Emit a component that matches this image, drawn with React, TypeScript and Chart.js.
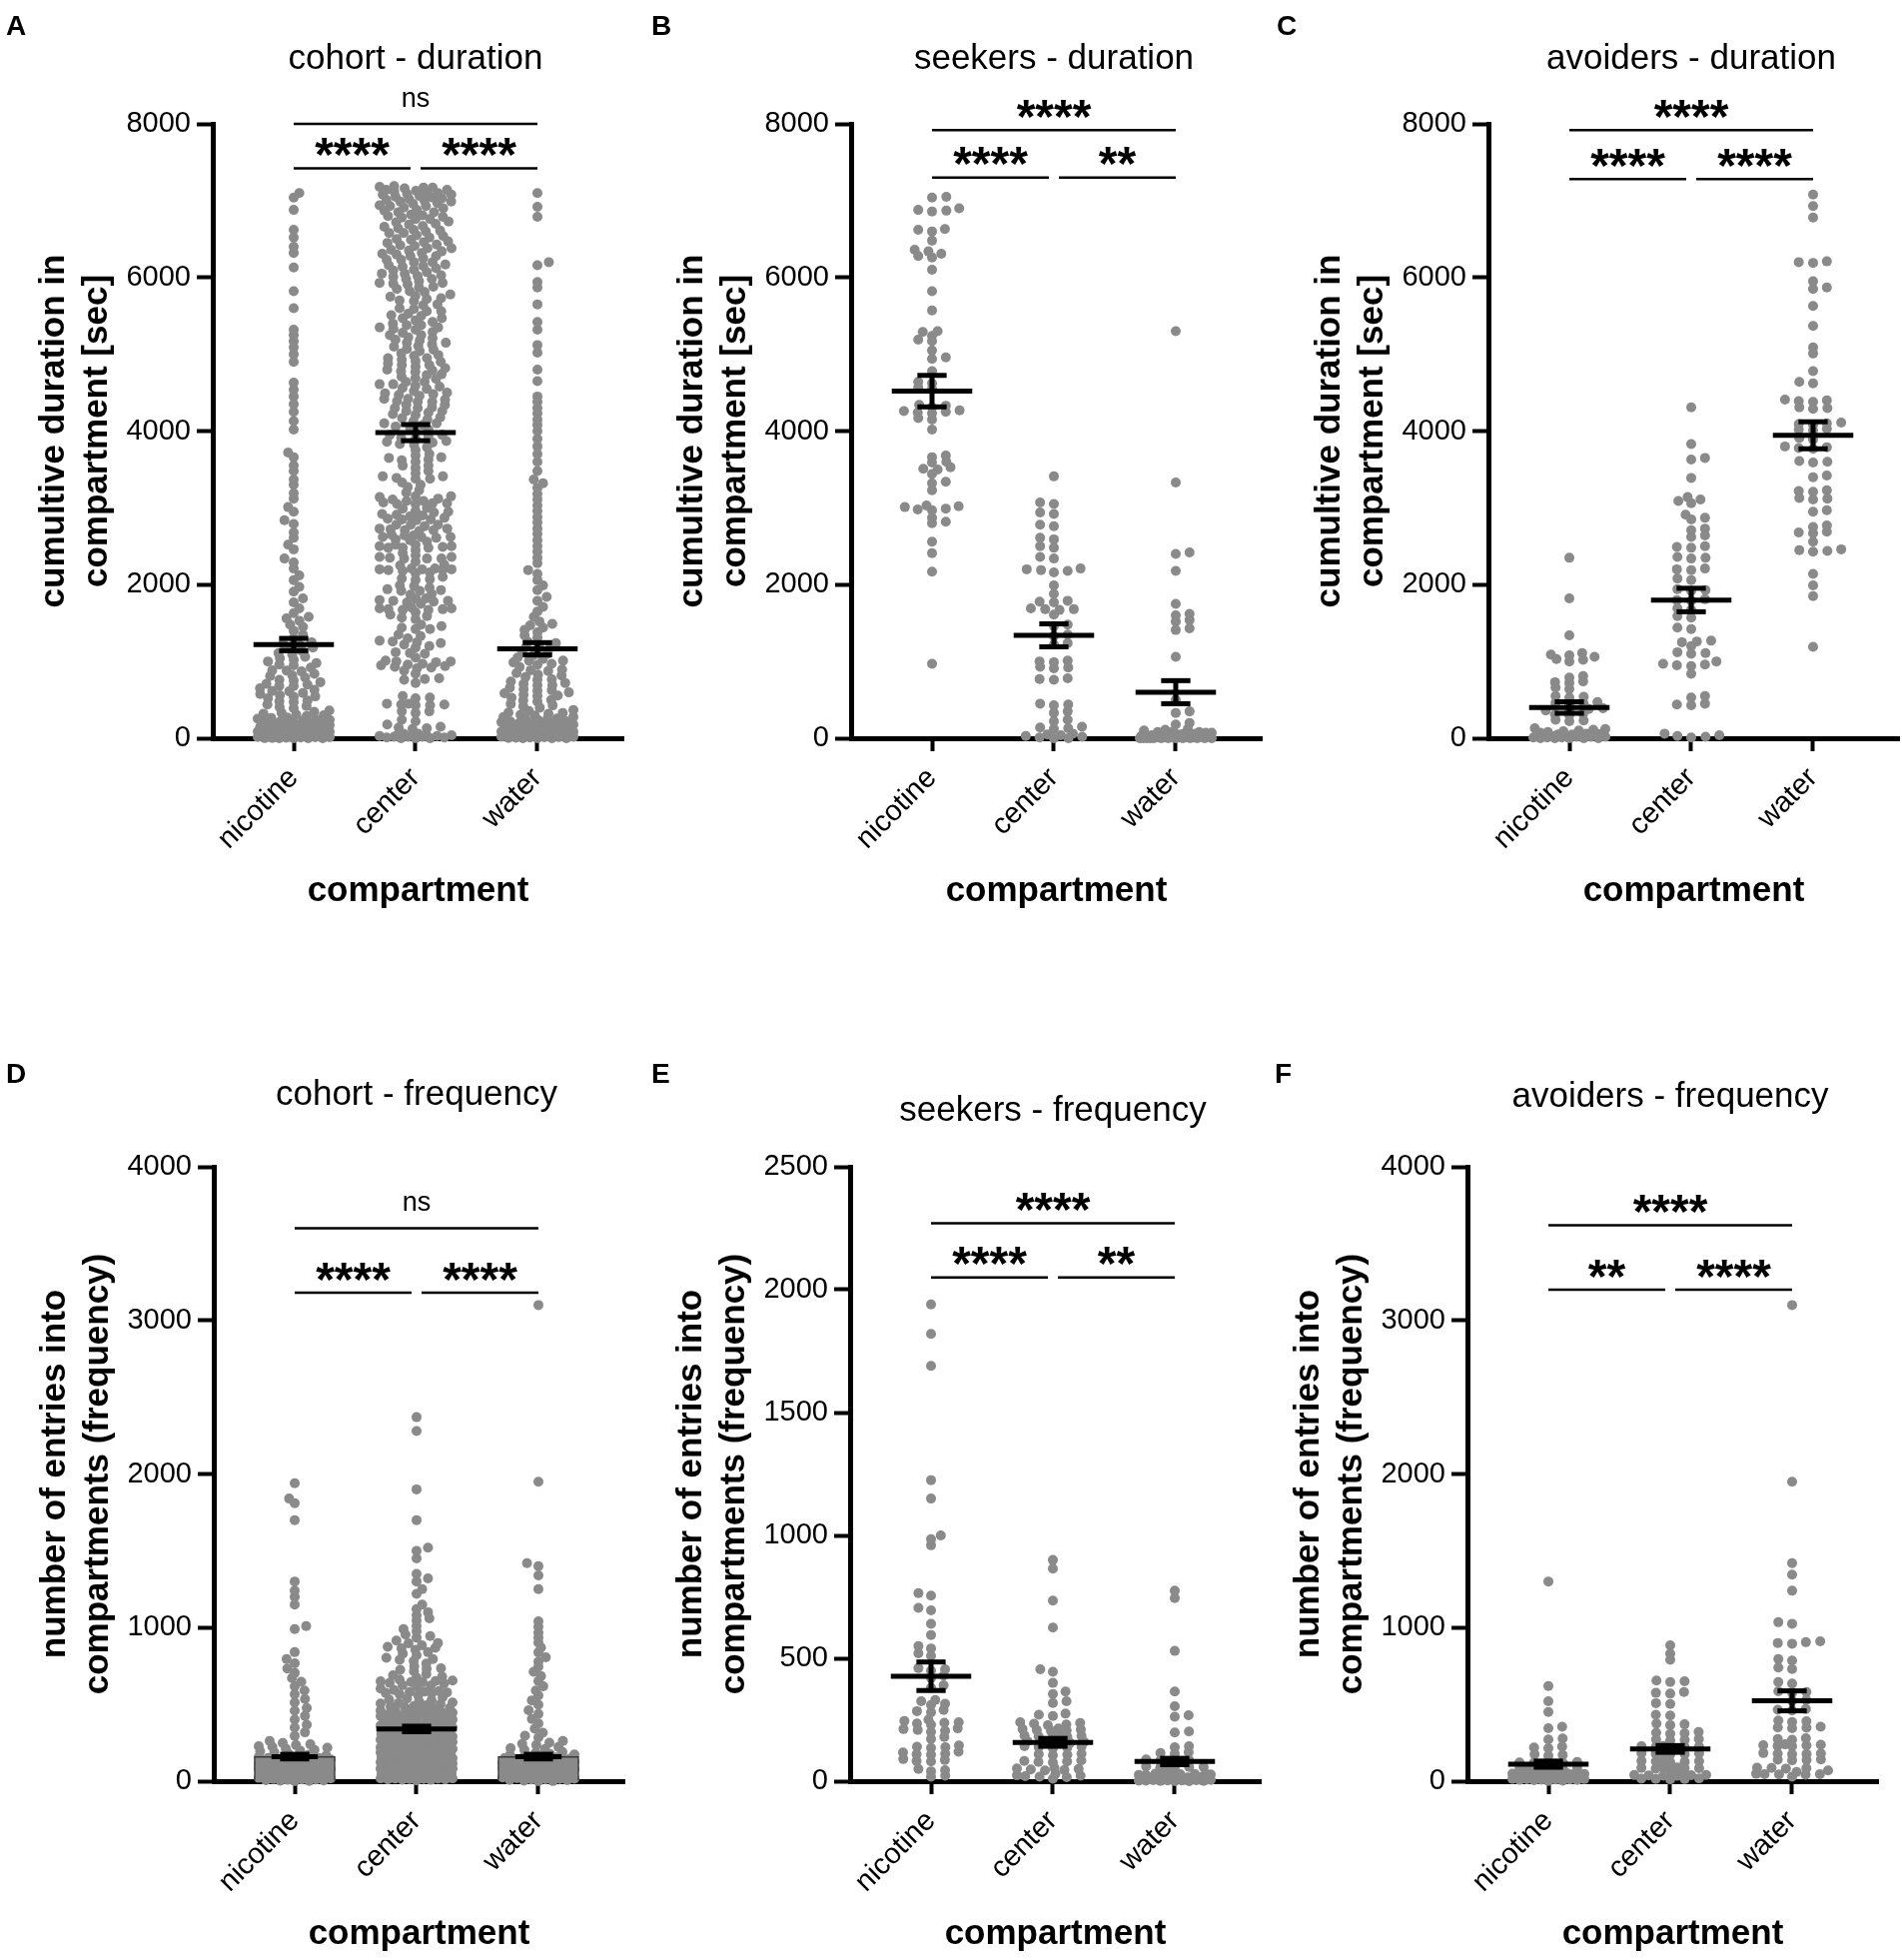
import React, { useEffect, useRef } from 'react';
import { Chart, registerables } from 'chart.js';

Chart.register(...registerables);

const FONT = "'Liberation Sans', Arial, Helvetica, sans-serif";
Chart.defaults.font.family = FONT;
Chart.defaults.color = '#000';

const compartments = ['nicotine', 'center', 'water'];

// ---- duration [sec] ----
const seekDurNic = [7050, 7040, 6900, 6880, 6870, 6860, 6630, 6620, 6600, 6480, 6360, 6340, 6310, 6280, 6260, 6100, 5820, 5570, 5300, 5290, 5240, 5190, 5170, 5050, 4960, 4940, 4780, 4640, 4620, 4570, 4550, 4340, 4330, 4310, 4270, 4260, 4250, 4240, 4230, 4170, 4150, 4020, 3680, 3660, 3600, 3590, 3530, 3510, 3500, 3440, 3340, 3320, 3230, 3030, 3020, 3010, 2990, 2980, 2970, 2870, 2820, 2800, 2560, 2410, 2170, 970];
const seekDurCen = [3410, 3070, 3050, 2940, 2920, 2780, 2760, 2610, 2590, 2500, 2480, 2360, 2340, 2210, 2200, 2190, 2180, 2160, 1990, 1880, 1790, 1780, 1770, 1690, 1680, 1680, 1670, 1610, 1480, 1460, 1350, 1330, 1240, 1220, 1010, 1000, 990, 930, 920, 910, 780, 770, 760, 450, 440, 430, 350, 330, 240, 220, 150, 140, 130, 120, 60, 50, 40, 30, 20, 10, 0, 0];
const seekDurWat = [5300, 3330, 2420, 2400, 2180, 1750, 1620, 1600, 1540, 1520, 1430, 1410, 1060, 500, 350, 330, 200, 180, 120, 110, 100, 90, 80, 80, 70, 70, 60, 60, 60, 50, 50, 50, 40, 40, 40, 40, 30, 30, 30, 30, 20, 20, 20, 20, 20, 10, 10, 10, 10, 10, 10, 0, 0, 0, 0, 0, 0, 0, 0, 0, 0, 0, 0, 0];

const avoidDurNic = [2350, 1820, 1340, 1110, 1090, 1080, 1060, 1030, 1020, 1000, 810, 790, 740, 730, 720, 660, 640, 550, 540, 530, 470, 460, 450, 440, 390, 380, 370, 360, 320, 310, 300, 240, 230, 220, 130, 120, 110, 100, 90, 80, 70, 60, 60, 50, 50, 40, 40, 40, 30, 30, 30, 20, 20, 20, 10, 10, 10, 0, 0, 0, 0, 0];
const avoidDurCen = [4310, 3830, 3650, 3630, 3390, 3140, 3110, 3090, 3060, 2910, 2870, 2850, 2730, 2710, 2640, 2620, 2500, 2490, 2480, 2360, 2350, 2340, 2210, 2200, 2190, 2080, 2060, 1940, 1930, 1920, 1810, 1800, 1790, 1690, 1670, 1590, 1570, 1440, 1420, 1270, 1260, 1250, 1200, 1120, 1110, 1100, 1000, 970, 960, 950, 940, 840, 550, 530, 450, 440, 430, 60, 40, 30, 20, 10];
const avoidDurWat = [7080, 6930, 6780, 6210, 6200, 6190, 5950, 5870, 5850, 5630, 5370, 5090, 5010, 4780, 4640, 4620, 4410, 4400, 4390, 4380, 4310, 4300, 4290, 4110, 4100, 4090, 4080, 4030, 4020, 4010, 3910, 3890, 3800, 3790, 3780, 3770, 3610, 3600, 3590, 3420, 3400, 3230, 3220, 3210, 3130, 3120, 3110, 2970, 2950, 2770, 2750, 2690, 2680, 2670, 2560, 2460, 2450, 2440, 2430, 2140, 1990, 1850, 1190];

const cohortDurNic = [0, 64, 12, 101, 33, 0, 87, 21, 55, 118, 4, 72, 40, 95, 16, 0, 60, 27, 110, 48, 8, 80, 36, 125, 52, 2, 68, 30, 90, 14, 44, 106, 0, 76, 24, 58, 114, 10, 84, 38,
  135, 212, 168, 246, 150, 190, 228, 142, 205, 175, 255, 160, 238, 198, 182,
  270, 540, 810, 360, 650, 920, 300, 590, 870, 420, 700, 980, 330, 610, 760, 470, 880, 290, 520, 950, 390, 730, 440, 840, 560, 680, 310, 490, 790, 630,
  215, 345, 480, 615, 750, 885, 1040, 1170, 265, 405, 545, 680, 820, 960, 1090, 1230, 320, 575, 710, 1000,
  1020, 1350, 1110, 1480, 1180, 1580, 1060, 1400, 1250, 1530, 1140, 1300, 1450, 1210, 1560,
  1630, 1690, 1770, 1820, 1910, 1970, 2060, 2120, 2210, 2290, 2340, 2460, 2520, 2610, 2680, 2790, 2840, 2950, 3010, 3120, 3190, 3300, 3370, 3480, 3550, 3660,
  3720, 4020, 4130, 4250, 4350, 4450, 4540, 4630, 4900, 5000, 5090, 5170, 5250, 5320, 5600, 5820, 6130, 6320, 6400, 6520, 6620, 6880, 7040, 7100];
const otherDurCen = [7190, 6850, 7020, 7140, 6910, 7080, 6960, 7170, 6820, 7050, 6990, 7110, 6880, 7160, 6940, 7030, 6810, 7090, 6970, 7130, 6870, 7000, 7180, 6930, 7060,
  5820, 6450, 6100, 6700, 5950, 6300, 6620, 5880, 6230, 6550, 6010, 6380, 6760, 5910, 6170, 6500, 6790, 6050, 6340, 6660, 5850, 6200, 6580, 6120, 6420, 6730, 5980, 6280, 6600, 6070, 6360, 6690, 5930, 6250, 6520, 6150, 6470, 6780, 6030, 6320,
  4420, 5130, 4780, 5560, 4610, 5290, 4950, 5720, 4500, 5180, 4860, 5440, 4690, 5350, 5010, 5650, 4550, 5220, 4900, 5500, 4740, 5400, 5070, 5780, 4460, 5150, 4820, 5600, 4640, 5320, 4980, 5690, 4580, 5250, 4930, 5470, 4710, 5380, 5040, 5750, 4480, 5110, 4800, 5530, 5100,
  3820, 4150, 3950, 4300, 3870, 4220, 4050, 4380, 3910, 4100, 4260, 3990, 4340, 3850, 4180, 4020, 4390, 3930, 4240, 4080,
  2520, 3150, 2780, 3600, 2650, 3300, 2900, 3750, 2580, 3050, 2720, 3450, 2850, 3550, 2620, 3200, 2960, 3680, 2700, 3380,
  1550, 1820, 2100, 2380, 1700, 1960, 2250, 2450, 720, 880, 1050, 1180, 1300, 1420, 0, 20, 40, 180, 350, 520];
const extraDurCen = [6140, 4520, 5870, 6930, 4210, 5330, 6610, 4790, 7120, 5060, 6280, 4380, 5640, 6850, 4950, 6020, 7040, 4470, 5510, 6460,
  4130, 5190, 6720, 4860, 5980, 7170, 4300, 5420, 6380, 4680, 5760, 6990, 4060, 5250, 6540, 4910, 6090, 7080, 4590, 5700,
  6230, 4420, 5380, 6800, 4730, 5920, 6670, 4170, 5150, 6350, 4840, 6160, 7140, 4560, 5590, 6490, 4260, 5470, 6760, 4990,
  6050, 6900, 4640, 5810, 6410, 4340, 5280, 6580, 4770, 5930, 7010, 4490, 5560, 6310, 4100, 5210, 6640, 4880, 6200, 7100,
  4610, 5730, 6430, 4410, 5350,
  2620, 3480, 1980, 3150, 2840, 3790, 2260, 3330, 1750, 2950, 3620, 2480, 3060, 1870, 2710, 3900, 2150, 3410, 2560, 3230,
  1640, 2890, 3700, 2340, 3000, 2780, 3550, 2070, 3270, 2640, 3860, 2410, 3120, 1920, 2990, 3660, 2200, 3380, 2730, 3520,
  2520, 3090, 2860, 3950, 2300];
const cohortDurCen = [...seekDurCen, ...avoidDurCen, ...otherDurCen, ...extraDurCen];
const cohortDurWat = [6, 70, 18, 108, 40, 0, 92, 26, 61, 122, 3, 78, 45, 99, 13, 0, 66, 31, 115, 53, 9, 85, 42, 128, 57, 0, 73, 35, 96, 19, 49, 103, 0, 81, 28, 63, 119, 15, 88, 37,
  140, 218, 172, 251, 155, 195, 233, 147, 210, 180, 258, 164, 242, 202, 187,
  278, 548, 816, 367, 657, 928, 305, 597, 876, 428, 707, 987, 336, 618, 768, 477, 886, 296, 528, 957, 398, 738, 447, 848, 567, 688, 318, 497, 797, 638,
  225, 355, 490, 625, 760, 895, 1050, 1180, 275, 415, 555, 690, 830, 970, 1100, 1240, 330, 585, 720, 1010,
  1030, 1340, 1120, 1470, 1190, 1010, 1410, 1260, 1490, 1150, 1310, 1440, 1220, 1080, 1380,
  1520, 1580, 1650, 1710, 1790, 1840, 1930, 1990, 2060, 2140, 2190, 2280, 2350, 2430, 2500, 2580, 2660, 2730, 2810, 2880, 2960, 3030, 3110, 3180, 3260, 3320,
  3370, 3480, 3600, 3700, 3800, 3900, 4000, 4080, 4150, 4230, 4300, 4380, 4450, 4650, 4800, 5020, 5120, 5320, 5420, 5650, 5870, 5940, 6160, 6200, 6790, 6920, 7100];

// ---- frequency [entries] ----
const seekFreqNic = [1940, 1820, 1690, 1225, 1150, 1000, 985, 960, 765, 755, 705, 695, 640, 595, 550, 540, 520, 510, 460, 455, 450, 430, 420, 390, 380, 330, 325, 315, 310, 290, 285, 280, 250, 245, 240, 238, 235, 230, 215, 212, 208, 205, 200, 180, 172, 145, 140, 138, 135, 120, 117, 112, 110, 108, 90, 86, 82, 80, 50, 45, 40, 22, 18];
const seekFreqCen = [900, 865, 735, 625, 455, 445, 400, 365, 355, 325, 318, 275, 270, 265, 240, 237, 234, 231, 228, 214, 212, 210, 208, 206, 204, 188, 186, 184, 182, 180, 178, 163, 160, 158, 156, 154, 142, 140, 138, 136, 134, 112, 110, 108, 106, 84, 82, 80, 78, 76, 54, 52, 50, 48, 46, 44, 24, 22, 20, 18, 16, 10, 30];
const seekFreqWat = [775, 745, 530, 365, 305, 268, 262, 202, 198, 142, 138, 118, 115, 112, 88, 86, 84, 82, 62, 60, 58, 58, 56, 55, 32, 31, 30, 30, 29, 28, 28, 27, 26, 25, 18, 16, 15, 14, 14, 13, 12, 12, 11, 10, 10, 9, 8, 8, 7, 6, 6, 5, 5, 4, 4, 3, 3, 2, 2, 1, 1, 0, 0];

const avoidFreqNic = [1300, 620, 520, 450, 355, 345, 278, 272, 225, 220, 215, 175, 170, 165, 125, 122, 120, 118, 115, 90, 88, 86, 85, 84, 82, 80, 78, 50, 48, 47, 46, 45, 44, 43, 42, 41, 40, 40, 38, 25, 24, 23, 22, 21, 20, 20, 19, 18, 17, 16, 15, 15, 14, 13, 12, 11, 10, 9, 8, 6, 4, 2];
const avoidFreqCen = [885, 830, 790, 655, 650, 645, 580, 575, 570, 508, 502, 432, 428, 375, 370, 365, 320, 316, 312, 308, 275, 272, 268, 265, 230, 228, 226, 224, 222, 220, 184, 182, 180, 178, 176, 174, 134, 132, 130, 128, 126, 124, 90, 88, 86, 85, 84, 82, 80, 45, 43, 41, 40, 39, 38, 36, 35, 18, 16, 15, 14, 12];
const avoidFreqWat = [3100, 1950, 1420, 1345, 1240, 1035, 1025, 910, 905, 900, 895, 795, 785, 740, 730, 645, 635, 585, 580, 575, 528, 522, 470, 465, 460, 395, 390, 385, 355, 350, 348, 345, 280, 275, 270, 240, 237, 234, 232, 230, 228, 183, 181, 179, 177, 175, 142, 140, 138, 136, 88, 86, 84, 82, 48, 46, 45, 44, 42, 60, 70, 30];

const cohortFreqNic = [3, 41, 12, 88, 57, 0, 26, 73, 9, 64, 35, 95, 18, 50, 7, 82, 44, 29, 61, 14, 99, 38, 70, 22, 5, 53, 86, 31, 67, 11, 47, 92, 24, 59, 2, 78,
  104, 152, 121, 138, 110, 145, 127, 158, 116, 133, 149, 107, 141, 124, 155, 113, 130, 147, 119, 136, 102, 150, 128, 143,
  165, 212, 188, 240, 172, 228, 195, 248, 180, 218, 203, 235, 168, 224, 199,
  262, 295, 318, 350, 368, 402, 425, 458, 476, 512, 535, 566, 590, 618, 647, 672, 705, 733, 768, 795,
  840, 990, 1010, 1150, 1200, 1240, 1300, 1700, 1810, 1840, 1940];
const otherFreqCen = [12, 45, 78, 23, 91, 56, 5, 67, 34, 88, 19, 72, 41, 97, 60, 28, 83, 50, 9, 64,
  108, 156, 211, 264, 133, 187, 242, 291, 119, 172, 226, 279, 145, 198, 253, 104, 161, 217, 270, 128, 183, 235, 286, 150, 205, 258, 113, 167, 222, 275, 139, 192, 247, 296, 124, 178, 231, 283, 147, 201, 255, 116, 170, 219, 268,
  305, 352, 418, 467, 331, 389, 442, 495, 318, 376, 429, 481, 344, 401, 455, 309, 362, 414, 472, 337, 393, 448, 490, 322, 380, 435, 486, 349, 407, 460, 314, 368, 424, 477, 341, 397, 451, 327, 384, 439,
  512, 566, 623, 681, 538, 594, 652, 505, 559, 617, 674, 531, 587, 645, 698, 520, 578, 636, 690, 547, 603, 661, 526, 583, 640,
  715, 782, 856, 934, 748, 820, 897, 976, 731, 803, 875, 955, 766, 840, 915, 990, 725, 795, 868, 945,
  1010, 1045, 1080, 1120, 1150, 1220, 1250, 1300, 1320, 1350, 1060, 1100, 1500, 1520, 1700, 1900, 2280, 2370, 1450];
const cohortFreqCen = [...seekFreqCen, ...avoidFreqCen, ...otherFreqCen];
const cohortFreqWat = [6, 48, 15, 92, 60, 1, 30, 77, 11, 68, 39, 97, 20, 54, 8, 85, 46, 33, 65, 17, 99, 42, 74, 25, 4, 57, 89, 35, 71, 13, 50, 94, 27, 62, 0, 80,
  106, 154, 123, 140, 112, 147, 129, 159, 118, 135, 151, 109, 143, 126, 157, 115, 132, 149, 121, 138, 104, 152, 130, 145,
  170, 215, 190, 262, 178, 236, 205, 284, 185, 250, 222, 296, 174, 243, 210,
  315, 342, 376, 405, 438, 462, 497, 526, 558, 590, 618, 652, 684, 712, 745, 778, 806, 838, 870, 902, 935, 968, 1005, 1040,
  1250, 1340, 1400, 1420, 1950, 3100];

// mean +/- SEM as plotted
const cohortDurMean = [1220, 3980, 1165];
const cohortDurSem = [80, 105, 80];
const seekDurMean = [4520, 1340, 600];
const seekDurSem = [205, 150, 150];
const avoidDurMean = [400, 1800, 3945];
const avoidDurSem = [75, 153, 176];
const cohortFreqMean = [160, 340, 160];
const cohortFreqSem = [15, 18, 15];
const seekFreqMean = [427, 158, 80];
const seekFreqSem = [58, 16, 13];
const avoidFreqMean = [111, 210, 523];
const avoidFreqSem = [20, 22, 65];

// significance brackets: compartment index from/to, height in axis units
const bracketsA = [{ from: 1, to: 3, y: 8000, text: 'ns' }, { from: 1, to: 2, y: 7420, text: '****' }, { from: 2, to: 3, y: 7420, text: '****' }];
const bracketsB = [{ from: 1, to: 3, y: 7920, text: '****' }, { from: 1, to: 2, y: 7300, text: '****' }, { from: 2, to: 3, y: 7300, text: '**' }];
const bracketsC = [{ from: 1, to: 3, y: 7920, text: '****' }, { from: 1, to: 2, y: 7280, text: '****' }, { from: 2, to: 3, y: 7280, text: '****' }];
const bracketsD = [{ from: 1, to: 3, y: 3600, text: 'ns' }, { from: 1, to: 2, y: 3180, text: '****' }, { from: 2, to: 3, y: 3180, text: '****' }];
const bracketsE = [{ from: 1, to: 3, y: 2270, text: '****' }, { from: 1, to: 2, y: 2050, text: '****' }, { from: 2, to: 3, y: 2050, text: '**' }];
const bracketsF = [{ from: 1, to: 3, y: 3620, text: '****' }, { from: 1, to: 2, y: 3200, text: '**' }, { from: 2, to: 3, y: 3200, text: '****' }];

const durTitle = ['cumultive duration in', 'compartment [sec]'];
const freqTitle = ['number of entries into', 'compartments (frequency)'];

// ---- layout ----
const CANVAS_W = 670;
const CANVAS_H = 917;
const AREA_LEFT = 230;
const AREA_TOP = 124;
const AREA_RIGHT = 641;
const AREA_BOTTOM = 739;
const X_MIN = 0.336;
const X_MAX = 3.705;
const PX_PER_CAT = (AREA_RIGHT - AREA_LEFT) / (X_MAX - X_MIN);
const DOT = '#8a8a8a';

interface Bracket { from: number; to: number; y: number; text: string }
interface PanelSpec {
  letter: string; title: string; axisX: number; plotTop: number;
  letterX: number; letterY: number; titleBase: number;
  yMax: number; yStep: number; yTitle: string[];
  groups: number[][]; means: number[]; sems: number[];
  brackets: Bracket[]; bars?: boolean[];
}

const panels: PanelSpec[] = [
  { letter: 'A', title: 'cohort - duration', axisX: 213, plotTop: 124, letterX: 6, letterY: 35, titleBase: 69, yMax: 8000, yStep: 2000, yTitle: durTitle, groups: [cohortDurNic, cohortDurCen, cohortDurWat], means: cohortDurMean, sems: cohortDurSem, brackets: bracketsA },
  { letter: 'B', title: 'seekers - duration', axisX: 852, plotTop: 124, letterX: 652, letterY: 35, titleBase: 69, yMax: 8000, yStep: 2000, yTitle: durTitle, groups: [seekDurNic, seekDurCen, seekDurWat], means: seekDurMean, sems: seekDurSem, brackets: bracketsB },
  { letter: 'C', title: 'avoiders - duration', axisX: 1490, plotTop: 124, letterX: 1278, letterY: 35, titleBase: 69, yMax: 8000, yStep: 2000, yTitle: durTitle, groups: [avoidDurNic, avoidDurCen, avoidDurWat], means: avoidDurMean, sems: avoidDurSem, brackets: bracketsC },
  { letter: 'D', title: 'cohort - frequency', axisX: 214, plotTop: 1168, letterX: 6, letterY: 1084, titleBase: 1106, yMax: 4000, yStep: 1000, yTitle: freqTitle, groups: [cohortFreqNic, cohortFreqCen, cohortFreqWat], means: cohortFreqMean, sems: cohortFreqSem, brackets: bracketsD, bars: [true, false, true] },
  { letter: 'E', title: 'seekers - frequency', axisX: 851, plotTop: 1168, letterX: 652, letterY: 1084, titleBase: 1122, yMax: 2500, yStep: 500, yTitle: freqTitle, groups: [seekFreqNic, seekFreqCen, seekFreqWat], means: seekFreqMean, sems: seekFreqSem, brackets: bracketsE },
  { letter: 'F', title: 'avoiders - frequency', axisX: 1469, plotTop: 1168, letterX: 1276, letterY: 1084, titleBase: 1108, yMax: 4000, yStep: 1000, yTitle: freqTitle, groups: [avoidFreqNic, avoidFreqCen, avoidFreqWat], means: avoidFreqMean, sems: avoidFreqSem, brackets: bracketsF },
];

// scatter-dot spreading: dots are pushed sideways only when they sit at
// (almost) the same height, like Prism does; rows are capped at a max width
function swarmOffsets(values: number[], pxPerUnit: number): number[] {
  const S = 14.5; // horizontal spacing inside a row
  const T = 5; // vertical reach of a row
  const MAX = 36;
  const order = values.map((_, i) => i).sort((a, b) => values[a] - values[b]);
  const placed: { x: number; y: number }[] = [];
  const out: number[] = new Array(values.length).fill(0);
  let flip = 1;
  for (const i of order) {
    const y = values[i] * pxPerUnit;
    const near = placed.filter((p) => Math.abs(p.y - y) < T);
    const reach = (p: { y: number }) => S * Math.sqrt(1 - ((p.y - y) / T) ** 2);
    const free = (c: number) => near.every((p) => Math.abs(p.x - c) >= reach(p) - 0.01);
    const cands = [0];
    for (const p of near) {
      const r = reach(p);
      cands.push(p.x + r, p.x - r);
    }
    cands.sort((a, b) => Math.abs(a) - Math.abs(b) || (a - b) * flip);
    let best = NaN;
    for (const c of cands) {
      if (Math.abs(c) <= MAX && free(c)) { best = c; break; }
    }
    if (Number.isNaN(best)) {
      let score = -1;
      for (let c = -MAX; c <= MAX; c += 0.5) {
        let m = Infinity;
        for (const p of near) m = Math.min(m, Math.abs(p.x - c) / reach(p));
        if (m > score) { score = m; best = c; }
      }
    }
    flip = -flip;
    placed.push({ x: best, y });
    out[i] = best;
  }
  return out;
}

function segment(pts: { x: number; y: number }[]) {
  return {
    type: 'scatter' as const,
    data: pts,
    showLine: true,
    borderColor: '#000',
    borderWidth: 5,
    pointRadius: 0,
    order: 0,
    clip: false,
  };
}

function buildDatasets(spec: PanelSpec) {
  const pxPerUnit = (AREA_BOTTOM - AREA_TOP) / spec.yMax;
  const sets: any[] = [];
  spec.groups.forEach((vals, i) => {
    const offs = swarmOffsets(vals, pxPerUnit);
    sets.push({
      type: 'scatter',
      data: vals.map((v, k) => ({ x: i + 1 + offs[k] / PX_PER_CAT, y: v })),
      backgroundColor: DOT,
      borderWidth: 0,
      pointRadius: 5,
      order: 3,
      clip: false,
    });
  });
  if (spec.bars) {
    sets.push({
      type: 'bar',
      data: spec.means.map((m, i) => ({ x: i + 1, y: m })).filter((_, i) => spec.bars![i]),
      backgroundColor: DOT,
      borderColor: '#3a3a3a',
      borderWidth: 1.5,
      barThickness: 81,
      order: 2,
    });
  }
  spec.means.forEach((m, i) => {
    const c = i + 1;
    const s = spec.sems[i];
    const half = spec.bars && spec.bars[i] ? 0.19 : 0.33;
    const cap = 0.12;
    sets.push(segment([{ x: c - half, y: m }, { x: c + half, y: m }]));
    sets.push(segment([{ x: c, y: m - s }, { x: c, y: m + s }]));
    sets.push(segment([{ x: c - cap, y: m - s }, { x: c + cap, y: m - s }]));
    sets.push(segment([{ x: c - cap, y: m + s }, { x: c + cap, y: m + s }]));
  });
  return sets;
}

function decorPlugin(spec: PanelSpec, left: number, top: number) {
  return {
    id: 'decor' + spec.letter,
    afterDraw(chart: Chart) {
      const ctx = chart.ctx;
      const xs = chart.scales.x;
      const ys = chart.scales.y;
      ctx.save();
      ctx.fillStyle = '#000';
      ctx.textBaseline = 'alphabetic';
      ctx.textAlign = 'left';
      ctx.font = `bold 28px ${FONT}`;
      ctx.fillText(spec.letter, spec.letterX - left, spec.letterY - top);
      ctx.textAlign = 'center';
      ctx.font = `35px ${FONT}`;
      ctx.fillText(spec.title, xs.getPixelForValue(2), spec.titleBase - top);
      ctx.strokeStyle = '#000';
      ctx.lineWidth = 2.5;
      for (const b of spec.brackets) {
        let x1 = xs.getPixelForValue(b.from);
        let x2 = xs.getPixelForValue(b.to);
        if (b.to - b.from === 1) {
          if (b.from === 1) x2 -= 5; else x1 += 5;
        }
        const py = ys.getPixelForValue(b.y);
        ctx.beginPath();
        ctx.moveTo(x1, py);
        ctx.lineTo(x2, py);
        ctx.stroke();
        const ns = b.text === 'ns';
        ctx.font = ns ? `27px ${FONT}` : `bold 48px ${FONT}`;
        const m = ctx.measureText(b.text);
        const cy = py - (ns ? 25 : 21.5);
        ctx.fillText(b.text, (x1 + x2) / 2, cy + (m.actualBoundingBoxAscent - m.actualBoundingBoxDescent) / 2);
      }
      ctx.restore();
    },
  };
}

function Panel({ spec }: { spec: PanelSpec }) {
  const canvasRef = useRef<HTMLCanvasElement>(null);
  const left = spec.axisX - AREA_LEFT;
  const top = spec.plotTop - AREA_TOP;

  useEffect(() => {
    if (!canvasRef.current) return;
    const chart = new Chart(canvasRef.current, {
      type: 'scatter',
      data: { datasets: buildDatasets(spec) },
      options: {
        responsive: false,
        animation: false,
        events: [],
        layout: { padding: { left: 18, top: AREA_TOP, right: CANVAS_W - AREA_RIGHT, bottom: 0 } },
        plugins: { legend: { display: false }, tooltip: { enabled: false }, title: { display: false } },
        scales: {
          x: {
            type: 'linear',
            min: X_MIN,
            max: X_MAX,
            offset: false,
            afterBuildTicks: (s: any) => { s.ticks = [1, 2, 3].map((v) => ({ value: v })); },
            afterFit: (s: any) => { s.height = CANVAS_H - AREA_BOTTOM; },
            grid: { display: true, offset: false, drawOnChartArea: false, drawTicks: true, tickLength: 13, tickWidth: 4, tickColor: '#000', color: '#000' },
            border: { display: true, width: 5, color: '#000' },
            ticks: {
              autoSkip: false,
              minRotation: 45,
              maxRotation: 45,
              padding: 10,
              color: '#000',
              font: { size: 29 },
              callback: (v: any) => compartments[Number(v) - 1] ?? '',
            },
            title: { display: true, text: 'compartment', color: '#000', font: { size: 35, weight: 'bold' }, padding: { top: 0, bottom: 4 } },
          },
          y: {
            type: 'linear',
            min: 0,
            max: spec.yMax,
            afterFit: (s: any) => { s.width = AREA_LEFT - 18; },
            grid: { display: true, drawOnChartArea: false, drawTicks: true, tickLength: 16, tickWidth: 4, tickColor: '#000', color: '#000' },
            border: { display: true, width: 5, color: '#000' },
            ticks: { stepSize: spec.yStep, padding: 6, color: '#000', font: { size: 29 }, callback: (v: any) => String(v) },
            title: { display: true, text: spec.yTitle, color: '#000', font: { size: 35, weight: 'bold', lineHeight: 1.23 }, padding: { top: 32, bottom: 0 } },
          },
        },
      } as any,
      plugins: [decorPlugin(spec, left, top)],
    });
    return () => chart.destroy();
  }, [spec]);

  return (
    <canvas
      ref={canvasRef}
      width={CANVAS_W}
      height={CANVAS_H}
      style={{ position: 'absolute', left, top, width: CANVAS_W, height: CANVAS_H }}
    />
  );
}

export default function App() {
  return (
    <div style={{ position: 'absolute', left: 0, top: 0, width: 1904, height: 1962, overflow: 'hidden', background: '#fff' }}>
      {panels.map((p) => (
        <Panel key={p.letter} spec={p} />
      ))}
    </div>
  );
}
